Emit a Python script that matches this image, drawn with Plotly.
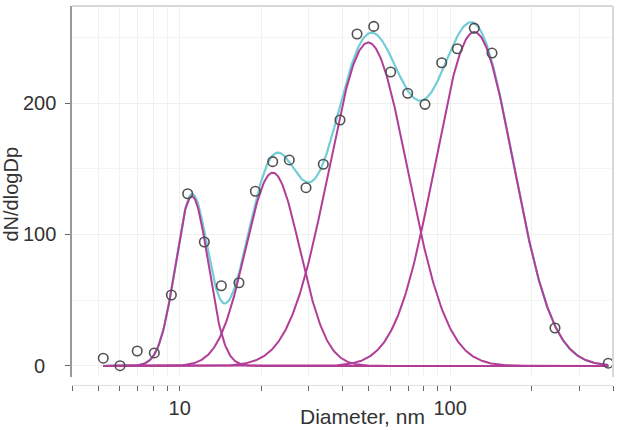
import numpy as np
import plotly.graph_objects as go

# ---- data ----
diameter_nm = [5.22, 6.02, 6.97, 8.06, 9.32, 10.71, 12.34, 14.26, 16.57, 19.05,
               22.08, 25.43, 29.32, 33.97, 39.15, 45.27, 52.18, 60.28, 69.68,
               80.72, 93.07, 106.3, 122.8, 142.8, 244.1, 384.3]
dndlogdp = [5.9, 0.2, 11.4, 9.9, 54, 131, 94.3, 61, 63.3, 132.9,
            155.4, 156.7, 135.6, 153.4, 187.1, 252.5, 258.3, 223.6, 207.4,
            199, 230.6, 241.3, 257, 238, 28.9, 2.1]

# fitted lognormal modes
mode_center_nm = [11.1, 22.08, 49.8, 122.8]
mode_peak = [129, 147, 246, 254]
mode_sigma_log10 = [0.060, 0.100, 0.146, 0.145]

x_tick_vals = [4, 5, 6, 7, 8, 9, 10, 20, 30, 40, 50, 60, 70, 80, 90, 100, 200, 300, 400]
x_tick_text = ["", "", "", "", "", "", "10", "", "", "", "", "", "", "", "", "100", "", "", ""]
y_tick_vals = [0, 100, 200]
y_tick_text = ["0", "100", "200"]
y_minor_vals = [50, 150, 250]

FONT = "Liberation Sans, Arial, Helvetica, sans-serif"
MODE_COLOR = "#B23D96"
SUM_COLOR = "#72CDD6"
TEXT_COLOR = "#333333"
TICK_SIZE = 20
TITLE_SIZE = 21

d_grid = np.geomspace(diameter_nm[0], diameter_nm[-1], 600)
modes = []
for c, a, s in zip(mode_center_nm, mode_peak, mode_sigma_log10):
    modes.append(a * np.exp(-(np.log10(d_grid / c)) ** 2 / (2 * s ** 2)))
total = np.sum(modes, axis=0)

fig = go.Figure()
fig.add_trace(go.Scatter(x=d_grid, y=total, mode="lines",
                         line=dict(color=SUM_COLOR, width=2.2), hoverinfo="skip"))
for m in modes:
    fig.add_trace(go.Scatter(x=d_grid, y=m, mode="lines",
                             line=dict(color=MODE_COLOR, width=2), hoverinfo="skip"))
fig.add_trace(go.Scatter(x=diameter_nm, y=dndlogdp, mode="markers",
                         marker=dict(symbol="circle-open", size=9.5,
                                     color="#505050", line=dict(width=1.6, color="#505050"))))

# layout geometry: plot area x 72..613, y 6..377 ; x axis line at y=385
W, H = 618, 430
ml, mr, mt, mb = 72, 5, 6, 45
paper_h = H - mt - mb  # 379
plot_w = W - ml - mr
y_dom0 = (385 - 377) / paper_h

fig.update_layout(
    width=W, height=H, showlegend=False,
    margin=dict(l=ml, r=mr, t=mt, b=mb, pad=0),
    paper_bgcolor="white", plot_bgcolor="white",
    font=dict(family=FONT, size=TICK_SIZE, color=TEXT_COLOR),
    xaxis=dict(type="log", range=[np.log10(4), np.log10(400)],
               anchor="free", position=0,
               tickvals=x_tick_vals, ticktext=x_tick_text,
               ticks="outside", ticklen=5, tickwidth=1.4, tickcolor="#666666",
               showline=True, linecolor="#e0e0e0", linewidth=1,
               showgrid=True, gridcolor="#f1f1f1", gridwidth=1,
               zeroline=False, tickfont=dict(size=TICK_SIZE, color=TEXT_COLOR)),
    yaxis=dict(range=[-8.4, 273.8], domain=[y_dom0, 1],
               tickvals=y_tick_vals, showticklabels=False,
               ticks="outside", ticklen=5, tickwidth=1.4, tickcolor="#666666",
               showline=True, linecolor="#999999", linewidth=1.5,
               showgrid=True, gridcolor="#f0f0f0", gridwidth=1,
               minor=dict(tickvals=y_minor_vals, showgrid=True, gridcolor="#f4f4f4", ticks=""),
               zeroline=False),
)

# y tick labels (centred, as in the reference)
for v, t in zip(y_tick_vals, y_tick_text):
    fig.add_annotation(text=t, xref="paper", yref="y", x=(39 - ml) / plot_w, y=v,
                       showarrow=False, xanchor="center", yanchor="middle",
                       font=dict(family=FONT, size=TICK_SIZE, color=TEXT_COLOR))

# light panel border on top and right
fig.add_shape(type="line", xref="x domain", yref="y domain", x0=0, x1=1, y0=1, y1=1,
              line=dict(color="#d8d8d8", width=2))
fig.add_shape(type="line", xref="x domain", yref="y domain", x0=1, x1=1, y0=0, y1=1,
              line=dict(color="#d8d8d8", width=2))

fig.add_annotation(text="dN/dlogDp", xref="paper", yref="paper",
                   x=(10.5 - ml) / plot_w, y=(385 - 194) / paper_h,
                   textangle=-90, showarrow=False, xanchor="center", yanchor="middle",
                   font=dict(family=FONT, size=20, color=TEXT_COLOR))
fig.add_annotation(text="Diameter, nm", xref="paper", yref="paper",
                   x=(362 - ml) / plot_w, y=(385 - 430) / paper_h,
                   showarrow=False, xanchor="center", yanchor="bottom",
                   font=dict(family=FONT, size=TITLE_SIZE, color=TEXT_COLOR))

fig.write_html("out.html")
